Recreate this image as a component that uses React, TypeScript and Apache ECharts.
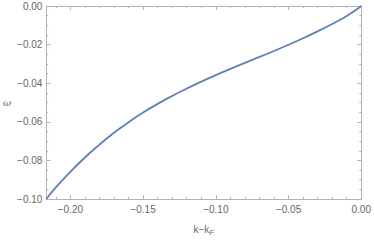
import React, { useEffect, useRef } from "react";
import * as echarts from "echarts";

const kValues = [-0.2165, -0.21, -0.2, -0.19, -0.18, -0.17, -0.16, -0.15, -0.14, -0.13, -0.12, -0.11, -0.1, -0.09, -0.08, -0.07, -0.06, -0.05, -0.04, -0.03, -0.02, -0.01, 0];
const omegaValues = [-0.1, -0.094, -0.0859, -0.0785, -0.0718, -0.0657, -0.0602, -0.0552, -0.0507, -0.0466, -0.0428, -0.0392, -0.0358, -0.0326, -0.0295, -0.0264, -0.0233, -0.0201, -0.0167, -0.0131, -0.0093, -0.0052, 0];
const xMajorTicks = [-0.2, -0.15, -0.1, -0.05, 0];
const xMinorTicks = [-0.21, -0.19, -0.18, -0.17, -0.16, -0.14, -0.13, -0.12, -0.11, -0.09, -0.08, -0.07, -0.06, -0.04, -0.03, -0.02, -0.01];
const yMajorTicks = [-0.1, -0.08, -0.06, -0.04, -0.02, 0];
const yMinorTicks = [-0.095, -0.09, -0.085, -0.075, -0.07, -0.065, -0.055, -0.05, -0.045, -0.035, -0.03, -0.025, -0.015, -0.01, -0.005];

const X_MIN = -0.2165;
const X_MAX = 0;
const Y_MIN = -0.1;
const Y_MAX = 0;

const FRAME = "#b4b4b4";
const fmt = (v: number) => v.toFixed(2).replace("-", "\u2212");

export default function App() {
  const ref = useRef<HTMLDivElement>(null);
  useEffect(() => {
    if (!ref.current) return;
    const chart = echarts.init(ref.current, undefined, { renderer: "svg" });
    const mkX = (position: "bottom" | "top", ticks: number[], len: number, label: boolean, name?: boolean) => ({
      type: "value",
      position,
      min: X_MIN,
      max: X_MAX,
      axisLine: { show: true, onZero: false, lineStyle: { color: FRAME, width: 1 } },
      axisTick: { show: true, inside: true, length: len, customValues: ticks, lineStyle: { color: FRAME, width: 1 } },
      axisLabel: label
        ? { show: true, customValues: ticks, formatter: fmt, color: "#666", fontSize: 10, fontFamily: "Liberation Sans", margin: 5 }
        : { show: false },
      splitLine: { show: false },
      name: name ? "k\u2212k{sub|F}" : undefined,
      nameLocation: "middle",
      nameGap: 24,
      nameTextStyle: {
        color: "#666",
        fontSize: 10,
        fontFamily: "Liberation Sans",
        rich: { sub: { fontSize: 8, fontStyle: "italic", color: "#666", fontFamily: "Liberation Sans", padding: [5, 0, 0, 0] } },
      },
    });
    const mkY = (position: "left" | "right", ticks: number[], len: number, label: boolean, name?: boolean) => ({
      type: "value",
      position,
      min: Y_MIN,
      max: Y_MAX,
      axisLine: { show: true, onZero: false, lineStyle: { color: FRAME, width: 1 } },
      axisTick: { show: true, inside: true, length: len, customValues: ticks, lineStyle: { color: FRAME, width: 1 } },
      axisLabel: label
        ? { show: true, customValues: ticks, formatter: fmt, color: "#666", fontSize: 10, fontFamily: "Liberation Sans", margin: 4 }
        : { show: false },
      splitLine: { show: false },
      name: name ? "\u03c9" : undefined,
      nameLocation: "middle",
      nameGap: 34,
      nameRotate: 0,
      nameTextStyle: { color: "#666", fontSize: 10, fontStyle: "italic", fontFamily: "DejaVu Serif" },
    });
    chart.setOption({
      animation: false,
      grid: { left: 44, right: 11, top: 6, bottom: 38, containLabel: false },
      xAxis: [
        mkX("bottom", xMajorTicks, 4, true, true),
        mkX("top", xMajorTicks, 4, false),
        mkX("bottom", xMinorTicks, 2, false),
        mkX("top", xMinorTicks, 2, false),
      ],
      yAxis: [
        mkY("left", yMajorTicks, 4, true, true),
        mkY("right", yMajorTicks, 4, false),
        mkY("left", yMinorTicks, 2, false),
        mkY("right", yMinorTicks, 2, false),
      ],
      series: [
        {
          type: "line",
          xAxisIndex: 0,
          yAxisIndex: 0,
          data: kValues.map((k, i) => [k, omegaValues[i]]),
          smooth: 0.5,
          showSymbol: false,
          lineStyle: { color: "#5e81b5", width: 1.8 },
          clip: true,
        },
      ],
    });
    return () => chart.dispose();
  }, []);
  return <div ref={ref} style={{ width: 374, height: 241, position: "absolute", left: 0, top: 0, background: "#fff" }} />;
}
